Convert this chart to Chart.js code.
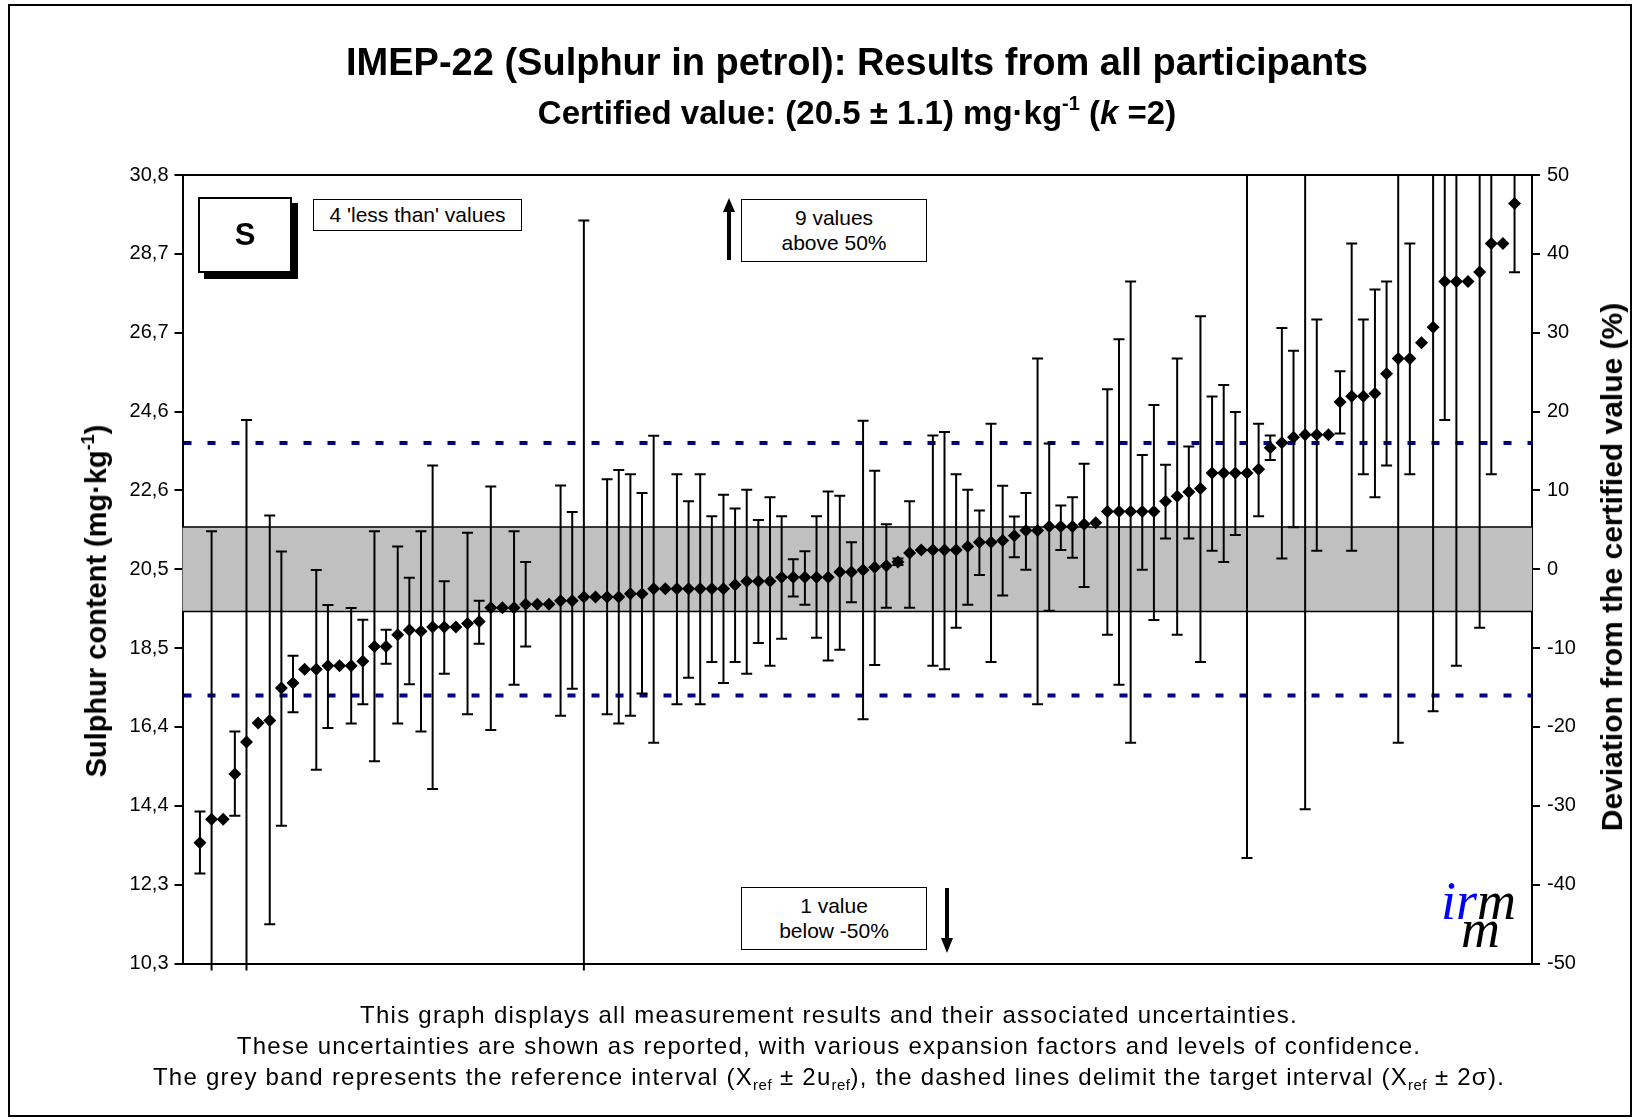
<!DOCTYPE html>
<html>
<head>
<meta charset="utf-8">
<title>IMEP-22 Sulphur in petrol</title>
<script src="https://cdn.jsdelivr.net/npm/chart.js@4.4.1/dist/chart.umd.min.js"></script>
<style>
  html, body { margin: 0; padding: 0; background: #fff; }
  body { width: 1639px; height: 1119px; position: relative; overflow: hidden; font-family: 'Liberation Sans', Arial, sans-serif; color: #000; }
  #frame { position: absolute; left: 8px; top: 4px; width: 1620px; height: 1109px; border: 2px solid #000; }
  #chart { position: absolute; left: 0; top: 0; }
  .ttl { position: absolute; left: 182px; width: 1350px; text-align: center; font-weight: bold; white-space: nowrap; }
  #t1 { top: 40px; font-size: 38px; line-height: 44px; }
  #t2 { top: 93px; font-size: 33px; line-height: 40px; }
  #t2 sup { font-size: 20px; vertical-align: 14px; line-height: 0; }
  .axt { position: absolute; font-weight: bold; white-space: nowrap; transform: translate(-50%, -50%) rotate(-90deg); line-height: 32px; }
  .axt sup { font-size: 18px; vertical-align: 12px; line-height: 0; }
  #yl { left: 96px; top: 601px; font-size: 29px; }
  #yr { left: 1612px; top: 567px; font-size: 30px; }
  .box { position: absolute; border: 1.5px solid #000; background: #fff; text-align: center; font-size: 21px; box-sizing: border-box; }
  #sbox { left: 198px; top: 197px; width: 94px; height: 76px; font-weight: bold; font-size: 31px; line-height: 72px; box-shadow: 6px 6px 0 #000; border-width: 2px; }
  #less { left: 313px; top: 199px; width: 209px; height: 32px; line-height: 29px; }
  #above { left: 741px; top: 199px; width: 186px; height: 63px; line-height: 25px; padding-top: 5px; }
  #below { left: 741px; top: 887px; width: 186px; height: 63px; line-height: 25px; padding-top: 5px; }
  svg.arrow { position: absolute; }
  #notes { position: absolute; left: 0; width: 1658px; top: 999px; text-align: center; font-size: 24px; letter-spacing: 1.25px; line-height: 31px; white-space: nowrap; }
  #notes sub { font-size: 15px; letter-spacing: 0.5px; vertical-align: -5px; line-height: 0; }
  #logo { position: absolute; left: 1441px; top: 878px; font-family: 'Liberation Serif', 'DejaVu Serif', serif; font-style: italic; font-size: 54px; line-height: 46px; }
  #logo .b { color: #0000ff; }
  #logo .m2 { position: absolute; left: 20px; top: 28px; }
</style>
</head>
<body>
<div id="frame"></div>
<canvas id="chart" width="1639" height="1119"></canvas>

<div class="ttl" id="t1">IMEP-22 (Sulphur in petrol): Results from all participants</div>
<div class="ttl" id="t2">Certified value: (20.5 ± 1.1) mg·kg<sup>-1</sup> (<i>k</i> =2)</div>

<div class="axt" id="yl">Sulphur content (mg·kg<sup>-1</sup>)</div>
<div class="axt" id="yr">Deviation from the certified value (%)</div>

<div class="box" id="sbox">S</div>
<div class="box" id="less">4 'less than' values</div>
<div class="box" id="above">9 values<br>above 50%</div>
<div class="box" id="below">1 value<br>below -50%</div>

<svg class="arrow" style="left:721px;top:196px" width="16" height="66">
  <polygon points="8,2 14,16 2,16" fill="#000"/>
  <rect x="6" y="14" width="4" height="50" fill="#000"/>
</svg>
<svg class="arrow" style="left:939px;top:886px" width="16" height="70">
  <rect x="6" y="2" width="4" height="52" fill="#000"/>
  <polygon points="2,52 14,52 8,67" fill="#000"/>
</svg>

<div id="logo"><span class="b">ir</span>m<span class="m2">m</span></div>

<div id="notes">
  This graph displays all measurement results and their associated uncertainties.<br>
  These uncertainties are shown as reported, with various expansion factors and levels of confidence.<br>
  The grey band represents the reference interval (X<sub>ref</sub> ± 2u<sub>ref</sub>), the dashed lines delimit the target interval (X<sub>ref</sub> ± 2σ).
</div>

<script>
// certified value and intervals (mg/kg)
const certifiedValue = 20.5;
const refUncertainty = 1.1;
const targetLow = 17.22;
const targetHigh = 23.78;

// axis ranges and tick labels
const yMin = 10.25;
const yMax = 30.75;
const leftTickValues = [10.25, 12.3, 14.35, 16.4, 18.45, 20.5, 22.55, 24.6, 26.65, 28.7, 30.75];
const leftTickLabels = ['10,3', '12,3', '14,4', '16,4', '18,5', '20,5', '22,6', '24,6', '26,7', '28,7', '30,8'];
const rightTickValues = [-50, -40, -30, -20, -10, 0, 10, 20, 30, 40, 50];
const slotCount = 116;

// participant results (sorted), with reported uncertainty limits (null = none given)
const results = [
  13.39, 14.00, 14.00, 15.18, 16.01, 16.50, 16.57, 17.41, 17.54, 17.90,
  17.90, 17.99, 17.99, 17.99, 18.11, 18.49, 18.49, 18.80, 18.92, 18.89,
  19.00, 19.00, 19.00, 19.09, 19.14, 19.50, 19.50, 19.50, 19.59, 19.59,
  19.59, 19.68, 19.68, 19.78, 19.78, 19.78, 19.78, 19.86, 19.86, 19.99,
  19.99, 19.99, 19.99, 19.99, 19.99, 19.99, 20.10, 20.19, 20.19, 20.19,
  20.29, 20.29, 20.29, 20.29, 20.29, 20.43, 20.43, 20.48, 20.55, 20.59,
  20.69, 20.92, 21.00, 21.00, 21.00, 21.00, 21.09, 21.20, 21.20, 21.25,
  21.37, 21.51, 21.51, 21.61, 21.61, 21.61, 21.67, 21.71, 22.00, 22.00,
  22.00, 22.00, 22.00, 22.27, 22.40, 22.51, 22.60, 23.00, 23.00, 23.00,
  23.00, 23.10, 23.66, 23.79, 23.93, 24.00, 24.00, 24.00, 24.85, 25.00,
  25.00, 25.07, 25.58, 25.98, 25.98, 26.39, 26.79, 27.98, 27.98, 27.98,
  28.23, 28.97, 28.97, 30.01
];
const lowerLimits = [
  12.59, 6.51, null, 14.09, 7.64, null, 11.27, 13.83, 16.78, null,
  15.29, 16.37, null, 16.49, 16.99, 15.51, 18.04, 16.49, 17.51, 16.28,
  14.79, 17.78, null, 16.73, 18.56, 16.32, null, 17.50, 18.49, null,
  null, 16.69, 17.39, 9.99, null, 16.73, 16.49, 16.69, 17.27, 15.99,
  null, 16.99, 17.68, 16.99, 18.09, 17.54, 18.09, 17.78, 18.58, 17.99,
  18.69, 19.79, 19.58, 18.72, 18.13, 18.41, 19.64, 16.60, 18.01, 19.50,
  20.61, 19.50, null, 17.99, 17.90, 18.98, 19.58, 20.35, 18.09, 19.82,
  20.81, 20.49, 16.99, 19.42, 21.00, 20.80, 20.04, null, 18.80, 17.50,
  15.99, 20.49, 19.18, 21.30, 18.80, 21.30, 18.09, 20.98, 20.69, 21.39,
  12.99, 21.88, 23.34, 20.78, 21.59, 14.26, 20.98, null, 24.03, 20.98,
  22.97, 22.37, 23.20, 15.99, 22.97, null, 16.81, 24.38, 17.99, null,
  18.98, 22.97, null, 28.22
];
const upperLimits = [
  14.20, 21.49, null, 16.28, 24.38, null, 21.90, 20.96, 18.25, null,
  20.48, 19.57, null, 19.49, 19.19, 21.49, 18.93, 21.09, 20.28, 21.49,
  23.20, 20.19, null, 21.45, 19.68, 22.65, null, 21.49, 20.69, null,
  null, 22.68, 21.99, 29.57, null, 22.84, 23.08, 22.97, 22.48, 23.97,
  null, 22.97, 22.27, 22.97, 21.88, 22.44, 22.08, 22.57, 21.78, 22.37,
  21.88, 20.76, 20.97, 21.88, 22.52, 22.41, 21.20, 24.36, 23.06, 21.67,
  20.78, 22.27, null, 23.98, 24.07, 22.97, 22.57, 22.03, 24.28, 22.67,
  21.87, 22.48, 25.98, 23.77, 22.16, 22.37, 23.24, null, 25.18, 26.48,
  27.98, 23.47, 24.77, 23.22, 25.98, 23.69, 27.08, 24.99, 25.29, 24.59,
  33.00, 24.28, 23.98, 26.77, 26.18, 33.70, 26.99, null, 25.65, 28.97,
  26.99, 27.77, 27.98, 35.97, 28.97, null, 36.80, 31.58, 37.97, null,
  37.48, 34.97, null, 31.80
];

const points = results.map((v, i) => ({ x: i + 1.5, y: v }));

const referencePlugin = {
  id: 'reference',
  beforeDatasetsDraw(chart) {
    const { ctx, chartArea: a, scales } = chart;
    const y = scales.y;
    const x = scales.x;

    // grey reference band
    const bTop = y.getPixelForValue(certifiedValue + refUncertainty);
    const bBot = y.getPixelForValue(certifiedValue - refUncertainty);
    ctx.save();
    ctx.fillStyle = '#c0c0c0';
    ctx.fillRect(a.left, bTop, a.right - a.left, bBot - bTop);
    ctx.strokeStyle = '#000';
    ctx.lineWidth = 1.5;
    ctx.beginPath();
    ctx.moveTo(a.left, bTop); ctx.lineTo(a.right, bTop);
    ctx.moveTo(a.left, bBot); ctx.lineTo(a.right, bBot);
    ctx.stroke();

    // target interval, dashed
    ctx.strokeStyle = '#000080';
    ctx.lineWidth = 4;
    ctx.setLineDash([8, 16]);
    [targetLow, targetHigh].forEach(v => {
      const py = y.getPixelForValue(v);
      ctx.beginPath();
      ctx.moveTo(a.left + 1, py); ctx.lineTo(a.right, py);
      ctx.stroke();
    });
    ctx.setLineDash([]);
    ctx.restore();

    // error bars
    ctx.save();
    ctx.beginPath();
    ctx.rect(a.left, a.top, a.right - a.left, a.bottom - a.top + 7);
    ctx.clip();
    ctx.strokeStyle = '#000';
    ctx.lineWidth = 2;
    results.forEach((v, i) => {
      if (lowerLimits[i] === null) return;
      const px = x.getPixelForValue(i + 1.5);
      const pLo = y.getPixelForValue(lowerLimits[i]);
      const pHi = y.getPixelForValue(upperLimits[i]);
      ctx.beginPath();
      ctx.moveTo(px, pLo); ctx.lineTo(px, pHi);
      if (pLo <= a.bottom) { ctx.moveTo(px - 5.5, pLo); ctx.lineTo(px + 5.5, pLo); }
      if (pHi >= a.top) { ctx.moveTo(px - 5.5, pHi); ctx.lineTo(px + 5.5, pHi); }
      ctx.stroke();
    });
    ctx.restore();
  }
};

const tickFont = { family: "'Liberation Sans', Arial, sans-serif", size: 20 };

new Chart(document.getElementById('chart'), {
  type: 'scatter',
  data: {
    datasets: [{
      data: points,
      pointStyle: 'rectRot',
      pointRadius: 6.5,
      backgroundColor: '#000',
      borderColor: '#000',
      borderWidth: 0
    }]
  },
  options: {
    responsive: false,
    animation: false,
    layout: { padding: { top: 175, bottom: 155.5, left: 110.5, right: 47 } },
    plugins: { legend: { display: false }, tooltip: { enabled: false } },
    scales: {
      x: {
        type: 'linear', min: 0, max: slotCount,
        grid: { display: false },
        ticks: { display: false },
        border: { display: true, color: '#000', width: 2 },
        afterFit: s => { s.height = 0; }
      },
      xTop: {
        type: 'linear', position: 'top', min: 0, max: slotCount,
        grid: { display: false },
        ticks: { display: false },
        border: { display: true, color: '#000', width: 2 },
        afterFit: s => { s.height = 0; }
      },
      y: {
        position: 'left', min: yMin, max: yMax,
        afterBuildTicks: s => { s.ticks = leftTickValues.map(v => ({ value: v })); },
        ticks: { color: '#000', font: tickFont, padding: 6, callback: (v, i) => leftTickLabels[i] },
        grid: { drawOnChartArea: false, color: '#000', lineWidth: 2, tickLength: 8 },
        border: { display: true, color: '#000', width: 2 },
        afterFit: s => { s.width = 72; }
      },
      y2: {
        position: 'right', min: -50, max: 50,
        afterBuildTicks: s => { s.ticks = rightTickValues.map(v => ({ value: v })); },
        ticks: { color: '#000', font: tickFont, padding: 7, callback: v => String(v) },
        grid: { drawOnChartArea: false, color: '#000', lineWidth: 2, tickLength: 8 },
        border: { display: true, color: '#000', width: 2 },
        afterFit: s => { s.width = 60; }
      }
    }
  },
  plugins: [referencePlugin]
});
</script>
</body>
</html>
